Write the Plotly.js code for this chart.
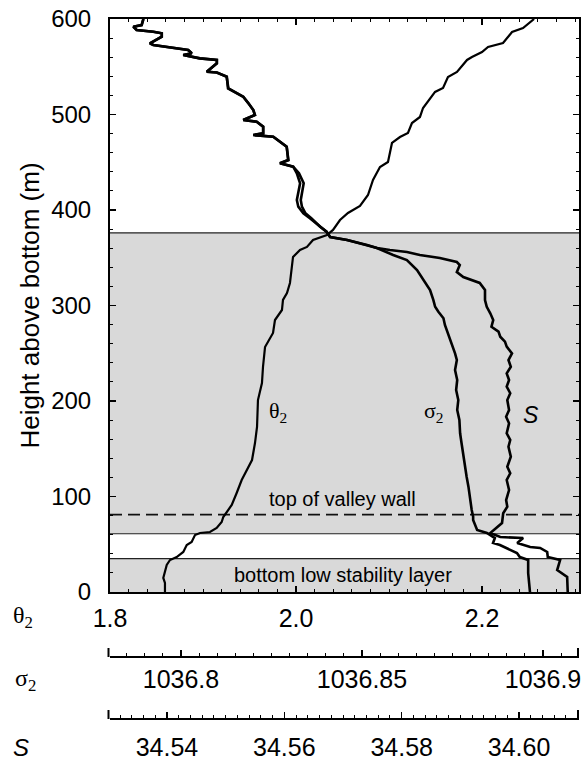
<!DOCTYPE html>
<html>
<head>
<meta charset="utf-8">
<script src="https://cdn.plot.ly/plotly-3.0.1.min.js"></script>
<style>html,body{margin:0;padding:0;background:#fff;}#chart{width:586px;height:760px;}</style>
</head>
<body>
<div id="chart"></div>
<script>
// ---- Data ----
// theta_2 profile, bottom -> top
const thetaHeight = [0,9.4,14.7,23.0,28.3,33.5,36.6,41.9,49.2,52.4,59.7,61.8,62.8,67.0,73.3,78.5,83.8,91.1,103.7,117.3,138.2,156.0,172.8,201.0,218.8,235.6,256.5,271.2,284.8,295.3,305.8,313.1,323.6,340.3,350.8,358.1,361.3,368.6,373.8,379.1,389.5,396.9,404.2,415.7,431.4,445.0,450.3,470.2,476.4,480.6,491.1,497.4,506.8,523.6,527.7,539.3,544.5,557.1,560.2,565.4,570.7,574.9,586.4,590.6,600];
const thetaValues = [1.8591,1.8591,1.8573,1.8591,1.8610,1.8645,1.8717,1.8788,1.8825,1.8878,1.8914,1.8968,1.9075,1.9147,1.9201,1.9218,1.9255,1.9309,1.9362,1.9416,1.9527,1.9559,1.9581,1.9591,1.9634,1.9645,1.9667,1.9753,1.9774,1.9849,1.9860,1.9903,1.9935,1.9957,1.9968,2.0043,2.0118,2.0183,2.0333,2.0398,2.0473,2.0559,2.0688,2.0774,2.0828,2.0903,2.0989,2.1032,2.1118,2.1204,2.1247,2.1333,2.1366,2.1495,2.1581,2.1634,2.1731,2.1839,2.1892,2.2000,2.2065,2.2226,2.2323,2.2441,2.2560];

// sigma_2 profile, top -> bottom
const sigmaHeight = [600,593.7,591.9,588.5,586.7,585.0,581.5,574.5,572.8,571.0,569.3,567.5,564.1,562.3,558.8,557.1,553.6,544.8,544.0,539.6,527.4,522.2,518.6,511.7,504.7,499.5,494.2,492.5,487.2,480.3,478.5,476.8,469.8,466.3,452.3,448.9,445.3,438.4,428.0,417.5,410.5,403.5,396.5,391.3,382.5,377.3,371.7,
  368.6,363.3,360.2,352.9,347.6,337.2,326.7,316.2,305.8,298.7,293.5,286.6,279.6,274.3,265.6,256.9,249.9,242.9,232.5,222.0,211.5,201.0,190.6,180.1,166.2,155.7,141.7,131.2,120.7,110.3,96.3,85.9,78.8,75.4,64.9,61.8,56.5,51.3,49.2,44.0,40.8,36.6,33.5,19.9,5.2,0];
const sigmaValues = [1036.7896,1036.7891,1036.7868,1036.7878,1036.7923,1036.7947,1036.7947,1036.7914,1036.7923,1036.7956,1036.7997,1036.8020,1036.8030,1036.8006,1036.8052,1036.8099,1036.8099,1036.8071,1036.8099,1036.8126,1036.8131,1036.8154,1036.8172,1036.8186,1036.8200,1036.8204,1036.8172,1036.8209,1036.8227,1036.8227,1036.8200,1036.8255,1036.8278,1036.8292,1036.8296,1036.8273,1036.8310,1036.8320,1036.8329,1036.8324,1036.8320,1036.8324,1036.8338,1036.8356,1036.8384,1036.8402,1036.8412,
  1036.8459,1036.8514,1036.8541,1036.8586,1036.8624,1036.8652,1036.8669,1036.8688,1036.8697,1036.8702,1036.8711,1036.8725,1036.8729,1036.8734,1036.8743,1036.8752,1036.8757,1036.8762,1036.8757,1036.8763,1036.8760,1036.8766,1036.8763,1036.8769,1036.8771,1036.8775,1036.8780,1036.8785,1036.8789,1036.8794,1036.8798,1036.8803,1036.8807,1036.8807,1036.8818,1036.8845,1036.8867,1036.8862,1036.8881,1036.8909,1036.8928,1036.8936,1036.8959,1036.8959,1036.8964,1036.8964];

// salinity profile, top -> bottom
const salHeight = [600,593.7,591.9,588.5,586.7,585.0,581.5,574.5,572.8,571.0,569.3,567.5,564.1,562.3,558.8,557.1,553.6,544.8,544.0,539.6,527.4,522.2,518.6,511.7,504.7,499.5,494.2,492.5,487.2,480.3,478.5,476.8,469.8,466.3,452.3,448.9,445.3,438.4,428.0,417.5,410.5,403.5,396.5,391.3,382.5,377.3,371.7,
  368.6,363.3,360.2,358.1,356.0,352.9,349.7,345.5,342.4,335.1,329.8,323.6,316.2,305.8,298.7,291.8,284.8,277.8,272.6,267.3,262.1,256.9,249.9,242.9,235.9,229.0,222.0,215.0,208.1,201.0,190.6,183.6,176.6,166.2,159.2,152.1,141.7,131.2,124.3,117.3,106.8,96.3,89.3,82.4,72.2,61.8,57.6,56.5,51.3,47.1,46.1,41.9,36.6,33.5,23.0,15.7,5.2,0];
const salValues = [34.5360,34.5357,34.5343,34.5348,34.5377,34.5391,34.5391,34.5371,34.5377,34.5397,34.5422,34.5436,34.5442,34.5428,34.5456,34.5485,34.5485,34.5468,34.5485,34.5502,34.5504,34.5519,34.5530,34.5539,34.5547,34.5550,34.5530,34.5553,34.5564,34.5564,34.5547,34.5581,34.5595,34.5604,34.5607,34.5593,34.5615,34.5625,34.5633,34.5630,34.5628,34.5630,34.5636,34.5646,34.5661,34.5672,34.5678,
  34.5707,34.5741,34.5758,34.5780,34.5809,34.5831,34.5865,34.5894,34.5899,34.5894,34.5905,34.5933,34.5942,34.5942,34.5945,34.5951,34.5956,34.5953,34.5965,34.5968,34.5976,34.5979,34.5988,34.5982,34.5986,34.5979,34.5983,34.5979,34.5985,34.5980,34.5983,34.5978,34.5983,34.5979,34.5985,34.5982,34.5986,34.5980,34.5985,34.5979,34.5983,34.5978,34.5980,34.5973,34.5971,34.5951,34.5968,34.6007,34.5997,34.6019,34.6036,34.6048,34.6049,34.6070,34.6065,34.6082,34.6083,34.6083];

// layer boundaries (m above bottom)
const lowStabilityTop = 35;
const gapTop = 61;
const valleyWallTop = 81;
const shadedTop = 376;

// axis tick labels
const thetaTicks = [1.8, 2.0, 2.2];
const thetaTickText = ['1.8', '2.0', '2.2'];
const sigmaTicks = [1036.8, 1036.85, 1036.9];
const sigmaTickText = ['1036.8', '1036.85', '1036.9'];
const salTicks = [34.54, 34.56, 34.58, 34.60];
const salTickText = ['34.54', '34.56', '34.58', '34.60'];
const heightTicks = [0, 100, 200, 300, 400, 500, 600];

// ---- Figure ----
const FONT = 'Liberation Sans, Arial, sans-serif';
const SERIF = 'Liberation Serif, serif';
const W = 586, H = 760, ML = 110, MR = 7, MT = 19, MB = 10;
const plotH = H - MT - MB;
const py = p => (H - MB - p) / plotH;      // pixel row -> paper y
const px = p => (p - ML) / (W - ML - MR);  // pixel col -> paper x

const yDomainBottom = py(592);
const sigmaAxisPos = py(657);
const salAxisPos = py(719);

const traces = [
  {x: thetaValues, y: thetaHeight, xaxis: 'x', yaxis: 'y', mode: 'lines', line: {color: '#000', width: 2.2}, hoverinfo: 'skip', name: 'θ2'},
  {x: sigmaValues, y: sigmaHeight, xaxis: 'x2', yaxis: 'y', mode: 'lines', line: {color: '#000', width: 2.6}, hoverinfo: 'skip', name: 'σ2'},
  {x: salValues, y: salHeight, xaxis: 'x3', yaxis: 'y', mode: 'lines', line: {color: '#000', width: 2.6}, hoverinfo: 'skip', name: 'S'}
];

const SHADE = '#d9d9d9';
const capH = 9 / plotH;
const shapes = [
  {type: 'rect', xref: 'paper', yref: 'y', x0: 0, x1: 1, y0: 0, y1: lowStabilityTop, fillcolor: SHADE, line: {width: 0}, layer: 'below'},
  {type: 'rect', xref: 'paper', yref: 'y', x0: 0, x1: 1, y0: gapTop, y1: shadedTop, fillcolor: SHADE, line: {width: 0}, layer: 'below'},
  {type: 'line', xref: 'paper', yref: 'y', x0: 0, x1: 1, y0: lowStabilityTop, y1: lowStabilityTop, line: {color: '#222', width: 1.2}, layer: 'below'},
  {type: 'line', xref: 'paper', yref: 'y', x0: 0, x1: 1, y0: gapTop, y1: gapTop, line: {color: '#222', width: 1.2}, layer: 'below'},
  {type: 'line', xref: 'paper', yref: 'y', x0: 0, x1: 1, y0: shadedTop, y1: shadedTop, line: {color: '#222', width: 1.2}, layer: 'below'},
  {type: 'line', xref: 'paper', yref: 'y', x0: 0, x1: 1, y0: valleyWallTop, y1: valleyWallTop, line: {color: '#111', width: 1.6, dash: '12px,6px'}, layer: 'below'},
  // bracket end caps of the lower axes
  {type: 'line', xref: 'paper', yref: 'paper', x0: px(108.5), x1: px(108.5), y0: sigmaAxisPos, y1: sigmaAxisPos + capH, line: {color: '#000', width: 2}},
  {type: 'line', xref: 'paper', yref: 'paper', x0: px(578), x1: px(578), y0: sigmaAxisPos, y1: sigmaAxisPos + capH, line: {color: '#000', width: 2}},
  {type: 'line', xref: 'paper', yref: 'paper', x0: px(108.5), x1: px(108.5), y0: salAxisPos, y1: salAxisPos + capH, line: {color: '#000', width: 2}},
  {type: 'line', xref: 'paper', yref: 'paper', x0: px(578), x1: px(578), y0: salAxisPos, y1: salAxisPos + capH, line: {color: '#000', width: 2}}
];

const annFont = {family: FONT, size: 20, color: '#000'};
const mid = {showarrow: false, xanchor: 'center', yanchor: 'middle'};
const annotations = [
  Object.assign({text: 'top of valley wall', xref: 'paper', yref: 'y', x: px(342), y: 97, font: annFont}, mid),
  Object.assign({text: 'bottom low stability layer', xref: 'paper', yref: 'y', x: px(343), y: 17.5, font: annFont}, mid),
  Object.assign({text: 'θ<sub>2</sub>', xref: 'paper', yref: 'y', x: px(278), y: 188, font: {family: SERIF, size: 22, color: '#000'}}, mid),
  Object.assign({text: 'σ<sub>2</sub>', xref: 'paper', yref: 'y', x: px(434), y: 188, font: {family: SERIF, size: 22, color: '#000'}}, mid),
  Object.assign({text: '<i>S</i>', xref: 'paper', yref: 'y', x: px(531), y: 185, font: {family: FONT, size: 23, color: '#000'}}, mid),
  // axis names to the left of the lower axes
  Object.assign({text: 'θ<sub>2</sub>', xref: 'paper', yref: 'paper', x: px(23), y: py(617), font: {family: SERIF, size: 24, color: '#000'}}, mid),
  Object.assign({text: 'σ<sub>2</sub>', xref: 'paper', yref: 'paper', x: px(25), y: py(680), font: {family: SERIF, size: 24, color: '#000'}}, mid),
  Object.assign({text: '<i>S</i>', xref: 'paper', yref: 'paper', x: px(21), y: py(747), font: {family: FONT, size: 24, color: '#000'}}, mid)
];

const tickFont = {family: FONT, size: 25, color: '#000'};
const layout = {
  width: W, height: H,
  margin: {l: ML, r: MR, t: MT, b: MB, pad: 0},
  paper_bgcolor: '#fff', plot_bgcolor: 'rgba(0,0,0,0)',
  showlegend: false,
  font: {family: FONT, color: '#000'},
  yaxis: {
    domain: [yDomainBottom, 1], range: [0, 600], automargin: false,
    tickvals: heightTicks, ticks: 'inside', ticklen: 6, tickwidth: 1.5, tickcolor: '#000',
    minor: {dtick: 20, ticks: 'inside', ticklen: 3, tickwidth: 1, tickcolor: '#000'},
    showline: true, linewidth: 2, linecolor: '#000', mirror: 'ticks',
    showgrid: false, zeroline: false, tickfont: {family: FONT, size: 24, color: '#000'}, ticklabelstandoff: 12,
    title: {text: 'Height above bottom (m)', font: {family: FONT, size: 26, color: '#000'}, standoff: 4}
  },
  xaxis: {
    anchor: 'y', range: [1.8, 2.3043], automargin: false,
    tickvals: thetaTicks, ticktext: thetaTickText, ticks: 'inside', ticklen: 6, tickwidth: 1.5, tickcolor: '#000',
    minor: {dtick: 0.02, tick0: 1.8, ticks: 'inside', ticklen: 3, tickwidth: 1, tickcolor: '#000'},
    showline: true, linewidth: 2, linecolor: '#000', mirror: 'ticks',
    showgrid: false, zeroline: false, tickfont: tickFont, ticklabelstandoff: 3
  },
  xaxis2: {
    overlaying: 'x', anchor: 'free', position: sigmaAxisPos, side: 'bottom', automargin: false,
    range: [1036.78039, 1036.90994],
    tickvals: sigmaTicks, ticktext: sigmaTickText, ticks: 'inside', ticklen: 6, tickwidth: 1.5, tickcolor: '#000',
    minor: {dtick: 0.005, tick0: 1036.8, ticks: 'inside', ticklen: 3, tickwidth: 1, tickcolor: '#000'},
    showline: true, linewidth: 2, linecolor: '#000',
    showgrid: false, zeroline: false, tickfont: tickFont, ticklabelstandoff: 0
  },
  xaxis3: {
    overlaying: 'x', anchor: 'free', position: salAxisPos, side: 'bottom', automargin: false,
    range: [34.53029, 34.61022],
    tickvals: salTicks, ticktext: salTickText, ticks: 'inside', ticklen: 6, tickwidth: 1.5, tickcolor: '#000',
    minor: {dtick: 0.002, tick0: 34.54, ticks: 'inside', ticklen: 3, tickwidth: 1, tickcolor: '#000'},
    showline: true, linewidth: 2, linecolor: '#000',
    showgrid: false, zeroline: false, tickfont: tickFont, ticklabelstandoff: 6
  },
  shapes: shapes,
  annotations: annotations
};

Plotly.newPlot('chart', traces, layout, {staticPlot: true, displayModeBar: false});
</script>
</body>
</html>
